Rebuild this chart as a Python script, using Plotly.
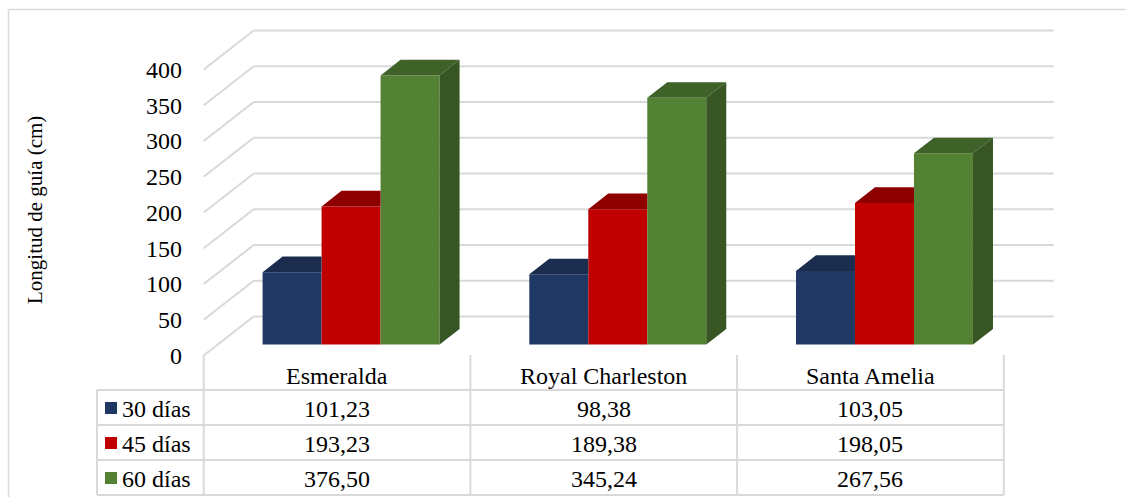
import plotly.graph_objects as go

# ---------------- data ----------------
categories = ["Esmeralda", "Royal Charleston", "Santa Amelia"]
series_names = ["30 días", "45 días", "60 días"]
values_30 = [101.23, 98.38, 103.05]
values_45 = [193.23, 189.38, 198.05]
values_60 = [376.50, 345.24, 267.56]
tick_values = [0, 50, 100, 150, 200, 250, 300, 350, 400]
y_title = "Longitud de guía (cm)"

series_values = [values_30, values_45, values_60]
front_colors = ["#203864", "#C00000", "#548235"]
top_colors = ["#1B2C4F", "#8E0000", "#3F6229"]
side_colors = ["#182848", "#7A0000", "#375623"]

# ---------------- geometry ----------------
W, H = 1126, 497
X0 = 203.7      # px of the floor's front-left corner
CW = 266.7      # px width of one category column
Y0 = 355.5      # px of value 0 on the front plane
S = 0.715       # px per value unit
DXP, DYP = 50.0, 39.0   # oblique depth offset (px) for full depth
T0, T1 = 0.28, 0.68     # bar front / back depth fraction
GAP = 0.1683            # column-units margin before first bar
BW = 0.2212             # bar width in column units
GRID = "#D9D9D9"
FONT = "Liberation Serif, Times New Roman, Times, DejaVu Serif, serif"

ddx = DXP / CW
ddy = DYP / S
x_range = [-X0 / CW, (W - X0) / CW]
y_range = [(Y0 - H) / S, Y0 / S]


def px(x):
    return x / W


def py(y):
    return 1 - y / H


def fmt(v):
    return f"{v:.2f}".replace(".", ",")


fig = go.Figure()

base = T0 * ddy
dx = (T1 - T0) * ddx
dy = (T1 - T0) * ddy
n_cat = len(categories)
n_ser = len(series_values)

for j, vals in enumerate(series_values):
    lefts = [i + GAP + j * BW + T0 * ddx for i in range(n_cat)]
    centers = [l + BW / 2 for l in lefts]
    fig.add_trace(go.Bar(
        x=centers, y=vals, base=[base] * n_cat, width=BW,
        marker=dict(color=front_colors[j], line=dict(width=0)),
        name=series_names[j], showlegend=False, hoverinfo="skip",
    ))
    tx, ty, sx, sy = [], [], [], []
    for i in range(n_cat):
        xl = lefts[i]
        xr = xl + BW
        vt = base + vals[i]
        hidden = j < n_ser - 1 and series_values[j + 1][i] >= vals[i]
        if hidden:
            tx += [xl, xr, xr, xl + dx, xl, None]
            ty += [vt, vt, vt + dy, vt + dy, vt, None]
        else:
            tx += [xl, xr, xr + dx, xl + dx, xl, None]
            ty += [vt, vt, vt + dy, vt + dy, vt, None]
            sx += [xr, xr + dx, xr + dx, xr, xr, None]
            sy += [base, base + dy, vt + dy, vt, base, None]
    fig.add_trace(go.Scatter(
        x=tx, y=ty, mode="lines", fill="toself", fillcolor=top_colors[j],
        line=dict(width=0, color=top_colors[j]), showlegend=False, hoverinfo="skip",
    ))
    if sx:
        fig.add_trace(go.Scatter(
            x=sx, y=sy, mode="lines", fill="toself", fillcolor=side_colors[j],
            line=dict(width=0, color=side_colors[j]), showlegend=False, hoverinfo="skip",
        ))

# dummy trace for tick-label axis
fig.add_trace(go.Scatter(x=[None], y=[None], yaxis="y2", showlegend=False, hoverinfo="skip"))

shapes = []
# gridlines: slanted side wall + back wall
for v in tick_values:
    shapes.append(dict(type="line", xref="x", yref="y", x0=0, y0=v, x1=ddx, y1=v + ddy,
                       line=dict(color=GRID, width=2), layer="below"))
    shapes.append(dict(type="line", xref="x", yref="y", x0=ddx, y0=v + ddy, x1=n_cat + ddx, y1=v + ddy,
                       line=dict(color=GRID, width=2), layer="below"))

# chart border (left + top)
shapes.append(dict(type="line", xref="paper", yref="paper", x0=px(8.5), y0=py(9.5), x1=px(W + 5), y1=py(9.5),
                   line=dict(color=GRID, width=1.5)))
shapes.append(dict(type="line", xref="paper", yref="paper", x0=px(8.5), y0=py(9.5), x1=px(8.5), y1=py(H + 5),
                   line=dict(color=GRID, width=1.5)))

# data table
TL = 97.0
TOP = 355.0
ROW0 = 390.0
RH = 35.0
col_edges = [X0 + i * CW for i in range(n_cat + 1)]
row_lines = [ROW0 + k * RH for k in range(n_ser + 1)]
for yl in row_lines:
    shapes.append(dict(type="line", xref="paper", yref="paper", x0=px(TL), y0=py(yl), x1=px(col_edges[-1]), y1=py(yl),
                       line=dict(color=GRID, width=2)))
shapes.append(dict(type="line", xref="paper", yref="paper", x0=px(TL), y0=py(ROW0), x1=px(TL), y1=py(row_lines[-1]),
                   line=dict(color=GRID, width=2)))
for xe in col_edges:
    shapes.append(dict(type="line", xref="paper", yref="paper", x0=px(xe), y0=py(TOP), x1=px(xe), y1=py(row_lines[-1]),
                       line=dict(color=GRID, width=2)))

annotations = []
for i, c in enumerate(categories):
    annotations.append(dict(xref="paper", yref="paper", x=px(X0 + (i + 0.5) * CW), y=py((TOP + ROW0) / 2 + 3),
                            text=c, showarrow=False, xanchor="center", yanchor="middle",
                            font=dict(family=FONT, size=24, color="#000000")))
for j, name in enumerate(series_names):
    yc = ROW0 + (j + 0.5) * RH
    shapes.append(dict(type="rect", xref="paper", yref="paper", x0=px(105), x1=px(117), y0=py(yc - 5.5), y1=py(yc + 6.5),
                       fillcolor=front_colors[j], line=dict(width=0)))
    annotations.append(dict(xref="paper", yref="paper", x=px(120), y=py(yc + 1), text=name, showarrow=False,
                            xanchor="left", yanchor="middle", font=dict(family=FONT, size=24, color="#000000")))
    for i in range(n_cat):
        annotations.append(dict(xref="paper", yref="paper", x=px(X0 + (i + 0.5) * CW), y=py(yc + 1),
                                text=fmt(series_values[j][i]), showarrow=False, xanchor="center", yanchor="middle",
                                font=dict(family=FONT, size=24, color="#000000")))

annotations.append(dict(xref="paper", yref="paper", x=px(35), y=py(210), text=y_title, textangle=-90,
                        showarrow=False, xanchor="center", yanchor="middle",
                        font=dict(family=FONT, size=21, color="#000000")))

fig.update_layout(
    width=W, height=H,
    margin=dict(l=0, r=0, t=0, b=0),
    paper_bgcolor="white", plot_bgcolor="white",
    barmode="overlay",
    font=dict(family=FONT),
    xaxis=dict(range=x_range, visible=False, fixedrange=True),
    yaxis=dict(range=y_range, visible=False, fixedrange=True),
    yaxis2=dict(overlaying="y", anchor="free", position=X0 / W, side="left", range=y_range,
                tickvals=tick_values, ticktext=[str(v) for v in tick_values],
                showgrid=False, zeroline=False, showline=False,
                ticks="outside", ticklen=17, tickcolor="rgba(0,0,0,0)",
                tickfont=dict(family=FONT, size=24, color="#000000"), fixedrange=True),
    shapes=shapes,
    annotations=annotations,
    showlegend=False,
)

fig.write_html("out.html", config={"displayModeBar": False},
               post_script="document.body.style.margin='0';document.body.style.overflow='hidden';")
